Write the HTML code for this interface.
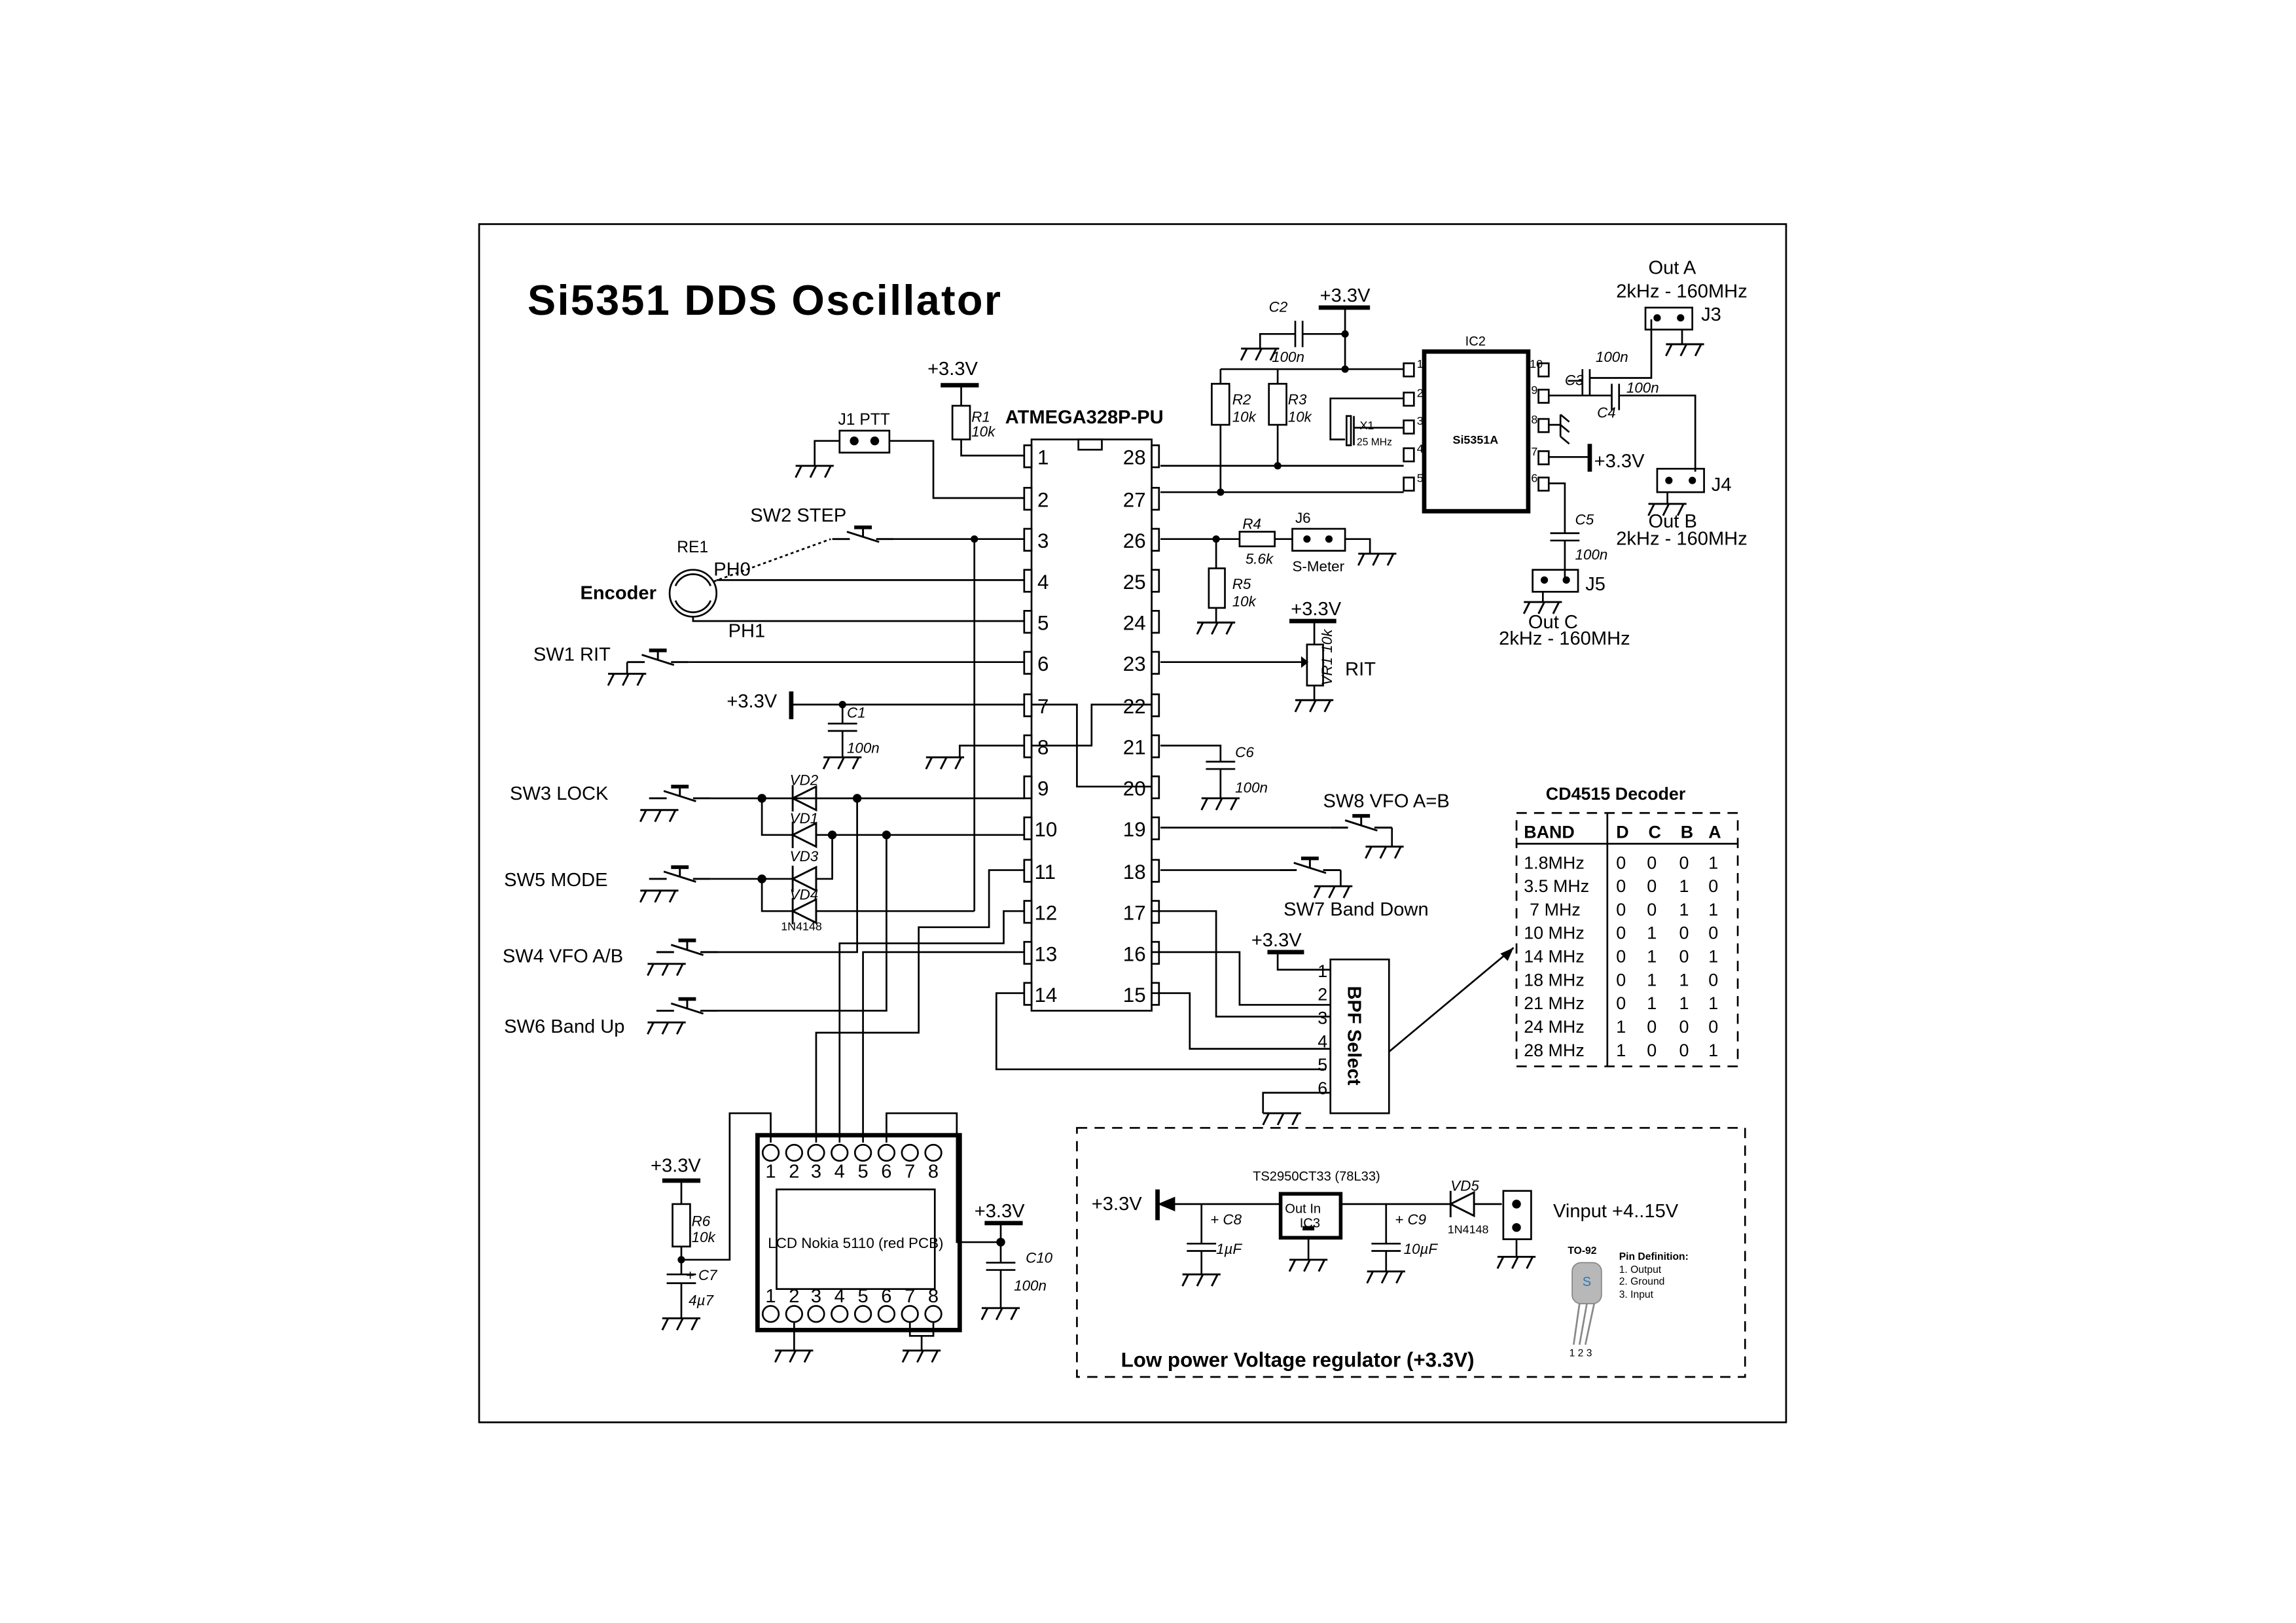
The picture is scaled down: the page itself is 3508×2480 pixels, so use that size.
<!DOCTYPE html>
<html><head><meta charset="utf-8"><style>
html,body{margin:0;padding:0;background:#fff;}
svg{display:block;}
text{font-family:"Liberation Sans",sans-serif;fill:#000;}
.i{font-style:italic;}
.b{font-weight:bold;}
</style></head><body>
<svg width="3508" height="2480" viewBox="0 0 1567 1108" preserveAspectRatio="none" xmlns="http://www.w3.org/2000/svg">
<defs>
<g id="gnd" fill="none" stroke="#000" stroke-width="1.3"><line x1="-13" y1="0" x2="13" y2="0"/><line x1="-9" y1="0" x2="-13" y2="8"/><line x1="1" y1="0" x2="-3" y2="8"/><line x1="11" y1="0" x2="7" y2="8"/></g>
<g id="sw" fill="none" stroke="#000" stroke-width="1.3"><line x1="0" y1="0" x2="12" y2="0"/><line x1="10" y1="-5" x2="32" y2="2"/><line x1="21" y1="-2" x2="21" y2="-8"/><line x1="15" y1="-8" x2="27" y2="-8" stroke-width="2.5"/><line x1="30" y1="0" x2="42" y2="0"/></g>
<g id="dio" fill="none" stroke="#000" stroke-width="1.3"><line x1="0" y1="-9" x2="0" y2="9"/><polygon points="0,0 16,-8 16,8"/></g>
</defs>
<g fill="none" stroke="#000" stroke-width="1.2">
<rect x="327" y="153" width="892" height="818"/>
<rect x="704" y="300" width="82" height="390"/>
<rect x="736" y="300" width="16" height="7"/>
</g>
<text x="360" y="215" class="b" font-size="29" textLength="323">Si5351 DDS Oscillator</text>
<text x="686" y="289" class="b" font-size="13">ATMEGA328P-PU</text>
<g fill="#fff" stroke="#000" stroke-width="1.2">
<rect x="699" y="304" width="5" height="15"/><rect x="699" y="333" width="5" height="15"/><rect x="699" y="361" width="5" height="15"/><rect x="699" y="389" width="5" height="15"/><rect x="699" y="417" width="5" height="15"/><rect x="699" y="445" width="5" height="15"/><rect x="699" y="474" width="5" height="15"/><rect x="699" y="502" width="5" height="15"/><rect x="699" y="530" width="5" height="15"/><rect x="699" y="558" width="5" height="15"/><rect x="699" y="587" width="5" height="15"/><rect x="699" y="615" width="5" height="15"/><rect x="699" y="643" width="5" height="15"/><rect x="699" y="671" width="5" height="15"/>
<rect x="786" y="304" width="5" height="15"/><rect x="786" y="333" width="5" height="15"/><rect x="786" y="361" width="5" height="15"/><rect x="786" y="389" width="5" height="15"/><rect x="786" y="417" width="5" height="15"/><rect x="786" y="445" width="5" height="15"/><rect x="786" y="474" width="5" height="15"/><rect x="786" y="502" width="5" height="15"/><rect x="786" y="530" width="5" height="15"/><rect x="786" y="558" width="5" height="15"/><rect x="786" y="587" width="5" height="15"/><rect x="786" y="615" width="5" height="15"/><rect x="786" y="643" width="5" height="15"/><rect x="786" y="671" width="5" height="15"/>
</g>
<g font-size="14">
<text x="708" y="317">1</text><text x="708" y="346">2</text><text x="708" y="374">3</text><text x="708" y="402">4</text><text x="708" y="430">5</text><text x="708" y="458">6</text><text x="708" y="487">7</text><text x="708" y="515">8</text><text x="708" y="543">9</text><text x="706" y="571">10</text><text x="706" y="600">11</text><text x="706" y="628">12</text><text x="706" y="656">13</text><text x="706" y="684">14</text>
<g text-anchor="end"><text x="782" y="317">28</text><text x="782" y="346">27</text><text x="782" y="374">26</text><text x="782" y="402">25</text><text x="782" y="430">24</text><text x="782" y="458">23</text><text x="782" y="487">22</text><text x="782" y="515">21</text><text x="782" y="543">20</text><text x="782" y="571">19</text><text x="782" y="600">18</text><text x="782" y="628">17</text><text x="782" y="656">16</text><text x="782" y="684">15</text></g>
</g>
<g fill="none" stroke="#000" stroke-width="1.2">
<polyline points="704,481 735,481 735,537 786,537"/>
<polyline points="704,509 745,509 745,481 786,481"/>
<line x1="642" y1="263" x2="668" y2="263" stroke-width="3"/>
<polyline points="656,263 656,277"/><rect x="650" y="277" width="12" height="23"/><polyline points="656,300 656,311 699,311"/>
<rect x="573" y="294" width="34" height="15"/>
<polyline points="607,301 637,301 637,340 699,340"/>
<polyline points="573,301 556,301 556,318"/>
<line x1="610" y1="368" x2="699" y2="368"/>
<line x1="665" y1="368" x2="665" y2="622"/>
<line x1="487" y1="397" x2="567" y2="368" stroke-dasharray="2,2"/>
<circle cx="473" cy="405" r="16"/>
<path d="M461,400 A13,13 0 0 1 485,400"/><path d="M461,410 A13,13 0 0 0 485,410"/>
<polyline points="489,396 699,396"/>
<polyline points="473,421 473,424 699,424"/>
<polyline points="470,452 699,452"/>
<polyline points="428,452 428,460"/>
<line x1="540" y1="472" x2="540" y2="491" stroke-width="3"/>
<line x1="540" y1="481" x2="699" y2="481"/>
<polyline points="575,481 575,494"/><line x1="565" y1="494" x2="585" y2="494"/><line x1="565" y1="499" x2="585" y2="499"/><polyline points="575,499 575,517"/>
<polyline points="699,509 655,509 655,517"/>
<polyline points="485,545 699,545"/>
<polyline points="485,600 520,600"/>
<polyline points="520,545 520,570 541,570"/>
<polyline points="557,570 699,570"/>
<polyline points="520,600 541,600"/><polyline points="557,600 568,600 568,570"/>
<polyline points="520,600 520,622 541,622"/><polyline points="557,622 665,622"/>
<polyline points="585,545 585,650 490,650"/>
<polyline points="605,570 605,690 490,690"/>
<polyline points="699,594 675,594 675,633 627,633 627,705 557,705 557,780"/>
<polyline points="699,622 685,622 685,644 573,644 573,780"/>
<polyline points="699,650 589,650 589,780" />
<polyline points="699,678 680,678 680,730 905,730"/>
<polyline points="526,780 526,760 498,760 498,860 465,860"/>
<polyline points="605,780 605,760 653,760 653,848 683,848"/>
<rect x="517" y="775" width="138" height="133" stroke-width="3"/>
<rect x="530" y="812" width="108" height="68"/>
<circle cx="526" cy="787" r="5.5"/><circle cx="542" cy="787" r="5.5"/><circle cx="557" cy="787" r="5.5"/><circle cx="573" cy="787" r="5.5"/><circle cx="589" cy="787" r="5.5"/><circle cx="605" cy="787" r="5.5"/><circle cx="621" cy="787" r="5.5"/><circle cx="637" cy="787" r="5.5"/>
<circle cx="526" cy="897" r="5.5"/><circle cx="542" cy="897" r="5.5"/><circle cx="557" cy="897" r="5.5"/><circle cx="573" cy="897" r="5.5"/><circle cx="589" cy="897" r="5.5"/><circle cx="605" cy="897" r="5.5"/><circle cx="621" cy="897" r="5.5"/><circle cx="637" cy="897" r="5.5"/>
<polyline points="542,903 542,922"/>
<polyline points="621,903 621,912 637,912 637,903"/><polyline points="629,912 629,922"/>
<line x1="452" y1="806" x2="478" y2="806" stroke-width="3"/>
<polyline points="465,806 465,822"/><rect x="459" y="822" width="12" height="29"/><polyline points="465,851 465,870"/>
<line x1="455" y1="870" x2="475" y2="870"/><line x1="455" y1="876" x2="475" y2="876"/><polyline points="465,876 465,900"/>
<line x1="672" y1="835" x2="698" y2="835" stroke-width="3"/>
<polyline points="683,835 683,862"/><line x1="673" y1="862" x2="693" y2="862"/><line x1="673" y1="867" x2="693" y2="867"/><polyline points="683,867 683,893"/>
<polyline points="792,318 958,318"/>
<polyline points="792,336 958,336"/>
<polyline points="833,252 958,252"/>
<polyline points="833,252 833,262"/><rect x="827" y="262" width="12" height="28"/><polyline points="833,290 833,336"/>
<polyline points="872,252 872,262"/><rect x="866" y="262" width="12" height="28"/><polyline points="872,290 872,318"/>
<line x1="900" y1="210" x2="935" y2="210" stroke-width="3"/>
<polyline points="918,210 918,252"/>
<polyline points="918,228 889,228"/><line x1="889" y1="219" x2="889" y2="237"/><line x1="884" y1="219" x2="884" y2="237"/><polyline points="884,228 860,228 860,238"/>
<rect x="972" y="240" width="71" height="109" stroke-width="3"/>
<polyline points="958,272 908,272 908,300 918,300"/>
<rect x="919" y="284" width="3" height="20"/><line x1="924" y1="284" x2="924" y2="304"/><line x1="924" y1="292" x2="958" y2="292"/>
<polyline points="1057,270 1100,270"/><line x1="1100" y1="262" x2="1100" y2="280"/><line x1="1105" y1="262" x2="1105" y2="280"/><polyline points="1105,270 1157,270 1157,322"/>
<polyline points="1070,260 1080,260"/><line x1="1080" y1="252" x2="1080" y2="270"/><line x1="1085" y1="252" x2="1085" y2="270"/><polyline points="1085,258 1127,258 1127,218"/>
<polyline points="1148,225 1148,235"/>
<polyline points="1057,290 1065,290"/><line x1="1065" y1="283" x2="1065" y2="298"/><line x1="1065" y1="283" x2="1071" y2="288"/><line x1="1065" y1="290" x2="1071" y2="295"/><line x1="1065" y1="298" x2="1071" y2="303"/>
<polyline points="1057,312 1085,312"/><line x1="1085" y1="303" x2="1085" y2="322" stroke-width="3"/>
<polyline points="1057,330 1068,330 1068,364"/><line x1="1058" y1="364" x2="1078" y2="364"/><line x1="1058" y1="369" x2="1078" y2="369"/><polyline points="1068,369 1068,396"/>
<rect x="1123" y="210" width="32" height="15"/>
<rect x="1131" y="320" width="32" height="16"/>
<polyline points="1138,336 1138,344"/>
<rect x="1046" y="389" width="31" height="15"/>
<polyline points="1053,404 1053,411"/>
<polyline points="792,368 846,368"/><rect x="846" y="363" width="24" height="10"/><polyline points="870,368 882,368"/><rect x="882" y="361" width="36" height="15"/><polyline points="918,368 935,368 935,378"/>
<polyline points="830,368 830,388"/><rect x="825" y="388" width="11" height="27"/><polyline points="830,415 830,425"/>
<polyline points="792,452 888,452"/>
<line x1="880" y1="424" x2="912" y2="424" stroke-width="3"/>
<polyline points="897,424 897,440"/><rect x="892" y="440" width="11" height="28"/><polyline points="897,468 897,478"/>
<polyline points="792,509 833,509 833,520"/><line x1="823" y1="520" x2="843" y2="520"/><line x1="823" y1="525" x2="843" y2="525"/><polyline points="833,525 833,545"/>
<polyline points="792,565 908,565"/><polyline points="950,565 950,578"/>
<polyline points="792,594 873,594"/><polyline points="915,594 915,605"/>
<rect x="908" y="655" width="40" height="105"/>
<line x1="865" y1="650" x2="890" y2="650" stroke-width="3"/>
<polyline points="872,650 872,662 908,662"/>
<polyline points="786,650 846,650 846,686 908,686"/>
<polyline points="786,622 830,622 830,694 908,694"/>
<polyline points="786,678 812,678 812,716 908,716"/>
<polyline points="908,746 862,746 862,760"/>
<line x1="948" y1="718" x2="1033" y2="647"/>
<rect x="1035" y="555" width="151" height="173" stroke-dasharray="7,5"/>
<line x1="1035" y1="576" x2="1186" y2="576"/>
<line x1="1097" y1="555" x2="1097" y2="728"/>
<rect x="735" y="770" width="456" height="170" stroke-dasharray="7,5"/>
<line x1="790" y1="812" x2="790" y2="833" stroke-width="3"/>
<polyline points="800,822 873,822"/>
<polyline points="820,822 820,849"/><line x1="810" y1="849" x2="830" y2="849"/><line x1="810" y1="854" x2="830" y2="854"/><polyline points="820,854 820,870"/>
<rect x="874" y="815" width="41" height="30" stroke-width="2.5"/>
<polyline points="893,845 893,860"/>
<polyline points="915,822 990,822"/>
<polyline points="946,822 946,849"/><line x1="936" y1="849" x2="956" y2="849"/><line x1="936" y1="854" x2="956" y2="854"/><polyline points="946,854 946,868"/>
<polyline points="1006,822 1025,822"/>
<rect x="1026" y="813" width="19" height="33"/>
<polyline points="1035,846 1035,858"/>
</g>
<g fill="#000">
<polygon points="790,822 802,817 802,827"/>
<rect x="889" y="837" width="8" height="3"/>
<circle cx="583" cy="301" r="3"/><circle cx="597" cy="301" r="3"/>
<circle cx="665" cy="368" r="2.5"/><circle cx="575" cy="481" r="2.5"/>
<circle cx="520" cy="545" r="3"/><circle cx="585" cy="545" r="3"/><circle cx="568" cy="570" r="3"/><circle cx="605" cy="570" r="3"/><circle cx="520" cy="600" r="3"/>
<circle cx="465" cy="860" r="2.5"/><circle cx="683" cy="848" r="3"/>
<circle cx="833" cy="336" r="2.5"/><circle cx="872" cy="318" r="2.5"/><circle cx="918" cy="252" r="2.5"/><circle cx="918" cy="228" r="2.5"/>
<circle cx="830" cy="368" r="2.5"/>
<circle cx="1131" cy="217" r="2.5"/><circle cx="1147" cy="217" r="2.5"/>
<circle cx="1139" cy="328" r="2.5"/><circle cx="1155" cy="328" r="2.5"/>
<circle cx="1054" cy="396" r="2.5"/><circle cx="1069" cy="396" r="2.5"/>
<circle cx="892" cy="368" r="2.5"/><circle cx="907" cy="368" r="2.5"/>
<circle cx="1035" cy="822" r="3"/><circle cx="1035" cy="838" r="3"/>
<polygon points="888,448 893,452 888,456"/>
<polygon points="1033,647 1024,651 1029,656"/>
</g>
<g fill="#fff" stroke="#000" stroke-width="1.2">
<rect x="958" y="248" width="7" height="9"/><rect x="958" y="268" width="7" height="9"/><rect x="958" y="287" width="7" height="9"/><rect x="958" y="306" width="7" height="9"/><rect x="958" y="326" width="7" height="9"/>
<rect x="1050" y="248" width="7" height="9"/><rect x="1050" y="266" width="7" height="9"/><rect x="1050" y="286" width="7" height="9"/><rect x="1050" y="308" width="7" height="9"/><rect x="1050" y="326" width="7" height="9"/>
</g>
<use href="#gnd" x="556" y="318"/><use href="#gnd" x="428" y="460"/><use href="#gnd" x="575" y="517"/><use href="#gnd" x="645" y="517"/>
<use href="#gnd" x="542" y="922"/><use href="#gnd" x="629" y="922"/><use href="#gnd" x="465" y="900"/><use href="#gnd" x="683" y="893"/>
<use href="#gnd" x="860" y="238"/><use href="#gnd" x="1150" y="235"/><use href="#gnd" x="1138" y="344"/><use href="#gnd" x="1053" y="411"/>
<use href="#gnd" x="940" y="378"/><use href="#gnd" x="830" y="425"/><use href="#gnd" x="897" y="478"/><use href="#gnd" x="833" y="545"/>
<use href="#gnd" x="945" y="578"/><use href="#gnd" x="910" y="605"/><use href="#gnd" x="875" y="760"/>
<use href="#gnd" x="820" y="870"/><use href="#gnd" x="893" y="860"/><use href="#gnd" x="946" y="868"/><use href="#gnd" x="1035" y="858"/>
<use href="#sw" x="568" y="368"/><use href="#sw" x="428" y="452"/><use href="#sw" x="443" y="545"/><use href="#sw" x="443" y="600"/><use href="#sw" x="448" y="650"/><use href="#sw" x="448" y="690"/><use href="#sw" x="908" y="565"/><use href="#sw" x="873" y="594"/>
<use href="#gnd" x="455" y="658"/><use href="#gnd" x="455" y="698"/><use href="#gnd" x="450" y="553"/><use href="#gnd" x="450" y="608"/>
<use href="#dio" x="541" y="545"/><use href="#dio" x="541" y="570"/><use href="#dio" x="541" y="600"/><use href="#dio" x="541" y="622"/>
<use href="#dio" x="990" y="822"/>
<g font-size="13">
<text x="633" y="256">+3.3V</text>
<text x="572" y="290" font-size="11">J1  PTT</text>
<text x="512" y="356">SW2 STEP</text>
<text x="462" y="377" font-size="11">RE1</text>
<text x="396" y="409" class="b">Encoder</text>
<text x="487" y="393">PH0</text>
<text x="497" y="435">PH1</text>
<text x="364" y="451">SW1 RIT</text>
<text x="496" y="483">+3.3V</text>
<text x="348" y="546">SW3 LOCK</text>
<text x="344" y="605">SW5 MODE</text>
<text x="343" y="657">SW4 VFO A/B</text>
<text x="344" y="705">SW6 Band Up</text>
<text x="444" y="800">+3.3V</text>
<text x="665" y="831">+3.3V</text>
<text x="918" y="206" text-anchor="middle">+3.3V</text>
<text x="1088" y="319">+3.3V</text>
<text x="1125" y="187">Out A</text>
<text x="1103" y="203">2kHz - 160MHz</text>
<text x="1161" y="219">J3</text>
<text x="1168" y="335">J4</text>
<text x="1125" y="360">Out B</text>
<text x="1103" y="372">2kHz - 160MHz</text>
<text x="1082" y="403">J5</text>
<text x="1043" y="429">Out C</text>
<text x="1023" y="440">2kHz - 160MHz</text>
<text x="881" y="420">+3.3V</text>
<text x="918" y="461">RIT</text>
<text x="903" y="551">SW8 VFO A=B</text>
<text x="876" y="625">SW7 Band Down</text>
<text x="854" y="646">+3.3V</text>
<text x="745" y="826">+3.3V</text>
<text x="1060" y="831">Vinput +4..15V</text>
</g>
<g font-size="10" class="i">
<text x="663" y="288">R1</text><text x="663" y="298">10k</text>
<text x="578" y="490">C1</text><text x="578" y="514">100n</text>
<text x="539" y="536">VD2</text><text x="539" y="562">VD1</text><text x="539" y="588">VD3</text><text x="539" y="614">VD4</text>
<text x="472" y="837">R6</text><text x="472" y="848">10k</text>
<text x="468" y="874">+ C7</text><text x="470" y="891">4µ7</text>
<text x="700" y="862">C10</text><text x="692" y="881">100n</text>
<text x="866" y="213">C2</text><text x="868" y="247">100n</text>
<text x="841" y="276">R2</text><text x="841" y="288">10k</text>
<text x="879" y="276">R3</text><text x="879" y="288">10k</text>
<text x="1089" y="247">100n</text><text x="1068" y="263">C3</text>
<text x="1110" y="268">100n</text><text x="1090" y="285">C4</text>
<text x="1075" y="358">C5</text><text x="1075" y="382">100n</text>
<text x="848" y="361">R4</text><text x="850" y="385">5.6k</text>
<text x="841" y="402">R5</text><text x="841" y="414">10k</text>
<text x="843" y="517">C6</text><text x="843" y="541">100n</text>
<text x="826" y="836">+ C8</text><text x="830" y="856">1µF</text>
<text x="952" y="836">+ C9</text><text x="958" y="856">10µF</text>
<text x="990" y="813">VD5</text>
</g>
<g font-size="10">
<text x="884" y="357">J6</text><text x="882" y="390">S-Meter</text>
<text x="1000" y="236" font-size="9">IC2</text>
<text x="1007" y="303" font-size="8" class="b" text-anchor="middle">Si5351A</text>
<text x="928" y="293" font-size="8">X1</text><text x="926" y="304" font-size="7">25 MHz</text>
<text x="533" y="635" font-size="8">1N4148</text>
<text x="988" y="842" font-size="8">1N4148</text>
<text x="855" y="806" font-size="9">TS2950CT33 (78L33)</text>
<text x="877" y="828" font-size="9">Out   In</text>
<text x="887" y="838" font-size="9">IC3</text>
<text x="909" y="468" font-size="10" class="i" transform="rotate(-90 909 468)">VR1 10k</text>
<text x="1070" y="856" font-size="7" class="b">TO-92</text>
<text x="1105" y="860" font-size="7" class="b">Pin Definition:</text>
<text x="1105" y="869" font-size="7">1. Output</text>
<text x="1105" y="877" font-size="7">2. Ground</text>
<text x="1105" y="886" font-size="7">3. Input</text>
<text x="1071" y="926" font-size="7">1 2 3</text>
</g>
<g font-size="8"><text x="967" y="251">1</text><text x="967" y="271">2</text><text x="967" y="290">3</text><text x="967" y="309">4</text><text x="967" y="329">5</text>
<text x="1044" y="251">10</text><text x="1045" y="269">9</text><text x="1045" y="289">8</text><text x="1045" y="311">7</text><text x="1045" y="329">6</text></g>
<rect x="1073" y="862" width="20" height="28" rx="6" fill="#b8b8b8" stroke="#888" stroke-width="0.8"/>
<g stroke="#888" stroke-width="1.2"><line x1="1078" y1="890" x2="1074" y2="918"/><line x1="1083" y1="890" x2="1078" y2="918"/><line x1="1088" y1="890" x2="1082" y2="918"/></g>
<text x="1080" y="878" font-size="9" style="fill:#2a7ab8">S</text>
<text x="920" y="707" class="b" font-size="13" text-anchor="middle" transform="rotate(90 920 707)">BPF Select</text>
<g font-size="12" text-anchor="end"><text x="906" y="667">1</text><text x="906" y="683">2</text><text x="906" y="699">3</text><text x="906" y="715">4</text><text x="906" y="731">5</text><text x="906" y="747">6</text></g>
<g font-size="13" text-anchor="middle">
<text x="526" y="804">1</text><text x="542" y="804">2</text><text x="557" y="804">3</text><text x="573" y="804">4</text><text x="589" y="804">5</text><text x="605" y="804">6</text><text x="621" y="804">7</text><text x="637" y="804">8</text>
<text x="526" y="889">1</text><text x="542" y="889">2</text><text x="557" y="889">3</text><text x="573" y="889">4</text><text x="589" y="889">5</text><text x="605" y="889">6</text><text x="621" y="889">7</text><text x="637" y="889">8</text>
<text x="584" y="852" font-size="10">LCD Nokia 5110 (red PCB)</text>
</g>
<text x="1055" y="546" class="b" font-size="12">CD4515 Decoder</text>
<g font-size="12" class="b"><text x="1040" y="572">BAND</text><text x="1103" y="572">D</text><text x="1125" y="572">C</text><text x="1147" y="572">B</text><text x="1166" y="572">A</text></g>
<g font-size="12">
<text x="1040" y="593">1.8MHz</text><text x="1040" y="609">3.5 MHz</text><text x="1044" y="625">7 MHz</text><text x="1040" y="641">10 MHz</text><text x="1040" y="657">14 MHz</text><text x="1040" y="673">18 MHz</text><text x="1040" y="689">21 MHz</text><text x="1040" y="705">24 MHz</text><text x="1040" y="721">28 MHz</text>
<text x="1103" y="593">0</text><text x="1124" y="593">0</text><text x="1146" y="593">0</text><text x="1166" y="593">1</text>
<text x="1103" y="609">0</text><text x="1124" y="609">0</text><text x="1146" y="609">1</text><text x="1166" y="609">0</text>
<text x="1103" y="625">0</text><text x="1124" y="625">0</text><text x="1146" y="625">1</text><text x="1166" y="625">1</text>
<text x="1103" y="641">0</text><text x="1124" y="641">1</text><text x="1146" y="641">0</text><text x="1166" y="641">0</text>
<text x="1103" y="657">0</text><text x="1124" y="657">1</text><text x="1146" y="657">0</text><text x="1166" y="657">1</text>
<text x="1103" y="673">0</text><text x="1124" y="673">1</text><text x="1146" y="673">1</text><text x="1166" y="673">0</text>
<text x="1103" y="689">0</text><text x="1124" y="689">1</text><text x="1146" y="689">1</text><text x="1166" y="689">1</text>
<text x="1103" y="705">1</text><text x="1124" y="705">0</text><text x="1146" y="705">0</text><text x="1166" y="705">0</text>
<text x="1103" y="721">1</text><text x="1124" y="721">0</text><text x="1146" y="721">0</text><text x="1166" y="721">1</text>
</g>
<text x="765" y="933" class="b" font-size="14">Low power Voltage regulator (+3.3V)</text>
</svg>
</body></html>
